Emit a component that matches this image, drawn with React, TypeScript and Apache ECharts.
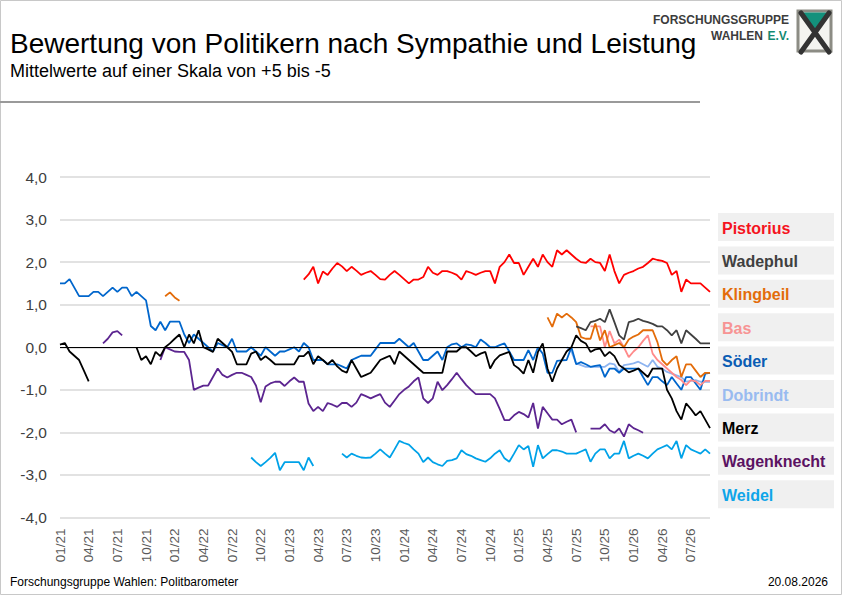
import React, { useEffect, useRef } from 'react';
import * as echarts from 'echarts';

// half-month survey slots from 01/2021 to the end of 08/2026
const SLOT_COUNT = 137;

const quarterLabels = [
  '01/21', '04/21', '07/21', '10/21',
  '01/22', '04/22', '07/22', '10/22',
  '01/23', '04/23', '07/23', '10/23',
  '01/24', '04/24', '07/24', '10/24',
  '01/25', '04/25', '07/25', '10/25',
  '01/26', '04/26', '07/26',
];

const yTicks = [-4, -3, -2, -1, 0, 1, 2, 3, 4];

// Mittelwerte je Politbarometer, Reihe beginnt beim angegebenen Slot
const soeder = [
  1.5, 1.5, 1.6, 1.4, 1.2, 1.2, 1.2, 1.3, 1.3, 1.2,
  1.3, 1.4, 1.3, 1.4, 1.4, 1.2, 1.3, 1.2, 1.1, 0.5,
  0.4, 0.6, 0.4, 0.6, 0.6, 0.6, 0.3, 0.1, 0.3, 0.2,
  0.1, 0.0, -0.1, 0.1, 0.05, 0.0, 0.2, -0.1, -0.1, -0.1,
  0.0, -0.1, -0.2, 0.0, -0.1, -0.2, -0.1, -0.1, -0.05, 0.0,
  -0.1, 0.1, 0.0, -0.3, -0.3, -0.3, -0.4, -0.4, -0.4, -0.45,
  -0.5, -0.3, -0.25, -0.2, -0.2, -0.2, -0.05, 0.1, 0.1, 0.1,
  0.1, 0.2, 0.1, 0.0, 0.1, -0.1, -0.3, -0.3, -0.2, -0.1,
  -0.3, 0.0, 0.07, 0.09, 0.0, 0.07, 0.05, 0.0, 0.18, 0.1,
  0.0, 0.0, 0.05, 0.09, -0.1, -0.3, -0.3, -0.3, -0.07, -0.3,
  0.0, -0.15, -0.6, -0.6, -0.32, -0.31, -0.3, 0.0, -0.4, -0.35,
  -0.4, -0.46, -0.44, -0.42, -0.7, -0.5, -0.5, -0.6, -0.5, -0.5,
  -0.5, -0.5, -0.7, -0.89, -0.7, -0.7, -0.8, -0.89, -0.7, -0.85,
  -1.0, -0.7, -0.7, -0.85, -1.0, -0.62, -0.6,
];

const merzEarly = [0.06, 0.1, -0.1, -0.2, -0.3, -0.55, -0.8];
const merzLate = [
  0.0, -0.3, -0.21, -0.4,
  -0.11, -0.21, 0.0, 0.09, 0.2, 0.3, 0.0, 0.3, 0.09, 0.4,
  0.0, -0.05, -0.11, 0.2, 0.1, 0.0, -0.11, -0.4, -0.4, -0.4,
  -0.15, -0.1, -0.3, -0.21, -0.3, -0.4, -0.4, -0.4, -0.4, -0.4,
  -0.21, -0.21, -0.1, -0.4, -0.21, -0.3, -0.4, -0.3, -0.45, -0.55,
  -0.6, -0.3, -0.5, -0.7, -0.65, -0.6, -0.45, -0.3, -0.25, -0.2,
  -0.4, -0.1, -0.2, -0.3, -0.4, -0.5, -0.6, -0.6, -0.6, -0.6,
  -0.6, -0.1, -0.1, -0.1, 0.0, 0.0, -0.1, -0.21, -0.15, -0.11,
  -0.5, -0.3, -0.19, -0.15, -0.11, -0.42, -0.5, -0.62, -0.3, -0.6,
  -0.11, 0.09, -0.5, -0.81, -0.5, -0.3, -0.1, 0.0, 0.28, 0.15,
  0.09, -0.11, -0.05, -0.03, -0.21, -0.11, -0.21, -0.42, -0.5, -0.59,
  -0.55, -0.5, -0.6, -0.7, -0.5, -0.5, -0.5, -1.0, -1.2, -1.5,
  -1.7, -1.32, -1.45, -1.6, -1.5, -1.7, -1.9,
];

const wagenknechtA = [0.09, 0.2, 0.35, 0.38, 0.28];
const wagenknechtB = [
  -0.3, 0.0, -0.05, -0.1, -0.11, -0.11, -0.3, -1.0, -0.95,
  -0.9, -0.9, -0.7, -0.5, -0.65, -0.71, -0.65, -0.6, -0.6, -0.65,
  -0.7, -0.9, -1.29, -0.92, -0.85, -0.81, -0.81, -0.91, -0.8, -0.71,
  -0.81, -0.81, -1.32, -1.5, -1.4, -1.5, -1.31, -1.35, -1.4, -1.31,
  -1.31, -1.4, -1.3, -1.1, -1.15, -1.2, -1.15, -1.1, -1.3, -1.4,
  -1.25, -1.1, -1.0, -0.92, -0.8, -0.71, -1.2, -1.31, -1.2, -0.81,
  -1.01, -0.89, -0.75, -0.6, -0.75, -0.89, -1.0, -1.1, -1.1, -1.1,
  -1.1, -1.2, -1.45, -1.71, -1.71, -1.6, -1.52, -1.57, -1.65, -1.31,
  -1.91, -1.4, -1.55, -1.7, -1.7, -1.81, -1.75, -1.7, -2.0,
];
const wagenknechtC = [-1.91, -1.91, -1.91, -1.81, -1.95, -2.01, -1.91, -2.1, -1.81, -1.9, -1.95, -2.01];

const pistorius = [
  1.59, 1.71, 1.89, 1.5, 1.78, 1.7, 1.85, 1.98, 1.9,
  1.79, 1.89, 1.8, 1.7, 1.75, 1.79, 1.7, 1.6, 1.59, 1.7,
  1.79, 1.7, 1.6, 1.5, 1.59, 1.59, 1.65, 1.89, 1.75, 1.7,
  1.79, 1.79, 1.75, 1.7, 1.59, 1.79, 1.75, 1.7, 1.75, 1.79,
  1.79, 1.5, 1.89, 2.0, 2.18, 1.98, 1.98, 1.7, 1.89, 2.08,
  1.89, 2.18, 2.0, 1.89, 2.28, 2.18, 2.28, 2.18, 2.08, 2.0,
  1.98, 2.08, 2.0, 1.98, 1.79, 2.18, 1.79, 1.5, 1.7, 1.75,
  1.79, 1.85, 1.89, 1.98, 2.08, 2.05, 2.03, 1.98, 1.7, 1.79,
  1.3, 1.59, 1.5, 1.5, 1.5, 1.4, 1.3,
];

const weidelA = [-2.59, -2.7, -2.79, -2.7, -2.6, -2.48, -2.89, -2.7, -2.7, -2.7, -2.7, -2.89, -2.59, -2.79];
const weidelB = [
  -2.5, -2.59, -2.5, -2.55, -2.59, -2.6, -2.59, -2.5, -2.4, -2.5, -2.59,
  -2.4, -2.2, -2.25, -2.29, -2.4, -2.5, -2.7, -2.59, -2.7, -2.75,
  -2.79, -2.67, -2.65, -2.61, -2.42, -2.51, -2.55, -2.61, -2.65, -2.69,
  -2.61, -2.5, -2.42, -2.61, -2.69, -2.5, -2.3, -2.4, -2.32, -2.81,
  -2.3, -2.61, -2.51, -2.42, -2.42, -2.45, -2.5, -2.5, -2.5, -2.45,
  -2.4, -2.69, -2.5, -2.4, -2.4, -2.61, -2.5, -2.5, -2.2, -2.61,
  -2.55, -2.5, -2.55, -2.61, -2.5, -2.4, -2.35, -2.3, -2.4, -2.2,
  -2.61, -2.3, -2.4, -2.45, -2.5, -2.4, -2.5,
];

const klingbeilEarly = [1.2, 1.29, 1.17, 1.09];
const klingbeilLate = [
  0.7, 0.48, 0.79, 0.7, 0.79, 0.7, 0.59, 0.24,
  0.2, 0.2, 0.56, 0.16, 0.4, 0.0, 0.05, 0.1, 0.0, 0.18,
  0.25, 0.3, 0.4, 0.4, 0.4, 0.12, -0.3, -0.42, -0.3, -0.21,
  -0.7, -0.4, -0.4, -0.55, -0.7, -0.6, -0.6,
];

const wadephul = [
  0.49, 0.45, 0.4, 0.59, 0.62, 0.67, 0.59, 0.89, 0.59, 0.28,
  0.18, 0.59, 0.62, 0.67, 0.62, 0.59, 0.55, 0.49, 0.49, 0.4,
  0.28, 0.4, 0.09, 0.4, 0.3, 0.2, 0.09, 0.09, 0.09,
];

const bas = [
  0.49, 0.49, 0.49, 0.0, 0.38, 0.09, 0.18, 0.0, -0.23, -0.1,
  0.0, 0.15, 0.28, -0.15, -0.3, -0.4, -0.5, -0.6, -0.7, -0.77,
  -0.89, -0.77, -0.8, -0.89, -0.79, -0.79,
];

const dobrindt = [
  0.0, -0.1, -0.38, -0.42, -0.46, -0.46, -0.46, -0.46, -0.46, -0.38,
  -0.4, -0.58, -0.42, -0.4, -0.38, -0.34, -0.4, -0.46, -0.3, -0.46,
  -0.5, -0.58, -0.62, -0.66, -0.7, -0.81, -0.79, -0.77, -0.81, -0.81, -0.81,
];

type Segment = [number, number[]];

const people: { name: string; line: string; text: string; segments: Segment[] }[] = [
  { name: 'Pistorius', line: '#ff0000', text: '#f5141e', segments: [[51, pistorius]] },
  { name: 'Wadephul', line: '#404040', text: '#404040', segments: [[108, wadephul]] },
  { name: 'Klingbeil', line: '#e36c0a', text: '#e36c0a', segments: [[22, klingbeilEarly], [102, klingbeilLate]] },
  { name: 'Bas', line: '#ff8a8a', text: '#f79494', segments: [[111, bas]] },
  { name: 'Söder', line: '#0066cc', text: '#0a5cb4', segments: [[0, soeder]] },
  { name: 'Dobrindt', line: '#8db4f0', text: '#99bbf0', segments: [[106, dobrindt]] },
  { name: 'Merz', line: '#000000', text: '#000000', segments: [[0, merzEarly], [16, merzLate]] },
  { name: 'Wagenknecht', line: '#5c2590', text: '#5b1262', segments: [[9, wagenknechtA], [21, wagenknechtB], [111, wagenknechtC]] },
  { name: 'Weidel', line: '#00a2e8', text: '#0ea5e9', segments: [[40, weidelA], [59, weidelB]] },
];

const drawOrder = ['Weidel', 'Wagenknecht', 'Pistorius', 'Dobrindt', 'Söder', 'Bas', 'Klingbeil', 'Wadephul', 'Merz'];

const place = (segments: Segment[]) => {
  const out: (number | null)[] = new Array(SLOT_COUNT).fill(null);
  segments.forEach(([start, values]) => {
    values.forEach((v, i) => {
      if (start + i < SLOT_COUNT) out[start + i] = v;
    });
  });
  return out;
};

const FONT = '"Liberation Sans", Arial, sans-serif';

const App: React.FC = () => {
  const chartRef = useRef<HTMLDivElement | null>(null);

  useEffect(() => {
    const chart = echarts.init(chartRef.current!, undefined, { renderer: 'svg' });

    const slots = Array.from({ length: SLOT_COUNT }, (_, i) => String(i));

    const series: echarts.SeriesOption[] = drawOrder.map((name) => {
      const p = people.find((q) => q.name === name)!;
      const s: any = {
        name: p.name,
        type: 'line',
        data: place(p.segments),
        symbol: 'none',
        connectNulls: false,
        lineStyle: { color: p.line, width: 1.8 },
        itemStyle: { color: p.line },
        emphasis: { disabled: true },
      };
      if (name === 'Weidel') {
        s.markLine = {
          silent: true,
          symbol: 'none',
          label: { show: false },
          lineStyle: { color: '#000', width: 1.2, type: 'solid' },
          data: [{ yAxis: 0 }],
        };
      }
      return s;
    });

    const legendGraphics = people.flatMap((p, i) => {
      const top = 213 + i * 33.4;
      return [
        { type: 'rect', shape: { x: 718, y: top, width: 116, height: 28 }, style: { fill: '#f0f0f0' } },
        {
          type: 'text',
          x: 722,
          y: top + 15,
          style: {
            text: p.name,
            fill: p.text,
            font: `bold 16px ${FONT}`,
            textVerticalAlign: 'middle',
          },
        },
      ];
    });

    const option: echarts.EChartsOption = {
      animation: false,
      backgroundColor: '#ffffff',
      grid: { left: 60, right: 132, top: 177, bottom: 77.5 },
      xAxis: {
        type: 'category',
        data: slots,
        boundaryGap: false,
        axisLine: { show: false },
        axisTick: { show: false },
        splitLine: { show: false },
        axisLabel: {
          interval: 0,
          rotate: 90,
          margin: 11,
          color: '#595959',
          fontSize: 13.5,
          fontFamily: FONT,
          formatter: (_v: string, idx: number) => (idx % 6 === 0 ? quarterLabels[idx / 6] ?? '' : ''),
        },
      },
      yAxis: {
        type: 'value',
        min: yTicks[0],
        max: yTicks[yTicks.length - 1],
        interval: 1,
        axisLine: { show: false },
        axisTick: { show: false },
        splitLine: { lineStyle: { color: '#e2e2e2', width: 2 } },
        axisLabel: {
          margin: 13,
          color: '#404040',
          fontSize: 15.5,
          fontFamily: FONT,
          formatter: (v: number) => v.toFixed(1).replace('.', ','),
        },
      },
      series,
      graphic: [
        { type: 'rect', shape: { x: 0.5, y: 0.5, width: 841, height: 594 }, style: { fill: 'none', stroke: '#c8c8c8', lineWidth: 1 } },
        {
          type: 'text',
          x: 10,
          y: 57,
          style: { text: 'Bewertung von Politikern nach Sympathie und Leistung', fill: '#000', font: `28px ${FONT}`, textVerticalAlign: 'bottom' },
        },
        {
          type: 'text',
          x: 10,
          y: 80,
          style: { text: 'Mittelwerte auf einer Skala von +5 bis -5', fill: '#000', font: `18px ${FONT}`, textVerticalAlign: 'bottom' },
        },
        { type: 'line', shape: { x1: 0, y1: 102, x2: 700, y2: 102 }, style: { stroke: '#9a9a9a', lineWidth: 2 } },
        {
          type: 'text',
          x: 789,
          y: 20,
          style: { text: 'FORSCHUNGSGRUPPE', fill: '#3c3c3c', font: `bold 12px ${FONT}`, textAlign: 'right', textVerticalAlign: 'middle' },
        },
        {
          type: 'text',
          x: 763,
          y: 36,
          style: { text: 'WAHLEN', fill: '#3c3c3c', font: `bold 12px ${FONT}`, textAlign: 'right', textVerticalAlign: 'middle' },
        },
        {
          type: 'text',
          x: 789,
          y: 36,
          style: { text: 'E.V.', fill: '#138a72', font: `bold 12px ${FONT}`, textAlign: 'right', textVerticalAlign: 'middle' },
        },
        { type: 'rect', shape: { x: 798, y: 11, width: 33, height: 40 }, style: { fill: '#f4f4f0', stroke: '#8c8c84', lineWidth: 3 } },
        { type: 'polygon', shape: { points: [[800, 12.5], [829, 12.5], [814.5, 32]] }, style: { fill: '#13917c' } },
        { type: 'line', shape: { x1: 801, y1: 13, x2: 829, y2: 52 }, style: { stroke: '#333333', lineWidth: 5, lineCap: 'round' } },
        { type: 'line', shape: { x1: 829, y1: 13, x2: 801, y2: 52 }, style: { stroke: '#333333', lineWidth: 5, lineCap: 'round' } },
        ...legendGraphics,
        {
          type: 'text',
          x: 10,
          y: 582,
          style: { text: 'Forschungsgruppe Wahlen: Politbarometer', fill: '#000', font: `12px ${FONT}`, textVerticalAlign: 'middle' },
        },
        {
          type: 'text',
          x: 828,
          y: 582,
          style: { text: '20.08.2026', fill: '#000', font: `12px ${FONT}`, textAlign: 'right', textVerticalAlign: 'middle' },
        },
      ] as any,
    };

    chart.setOption(option);

    return () => {
      chart.dispose();
    };
  }, []);

  return (
    <div
      ref={chartRef}
      style={{ position: 'absolute', left: 0, top: 0, width: '842px', height: '595px' }}
    />
  );
};

export default App;
